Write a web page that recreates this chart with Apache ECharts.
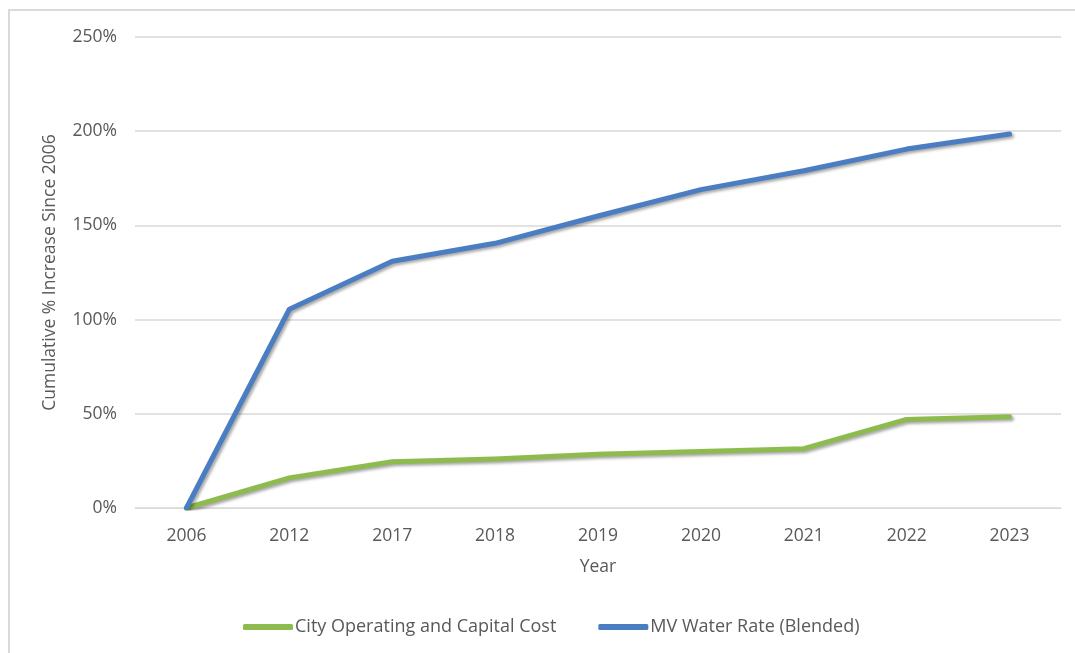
<!DOCTYPE html>
<html>
<head>
<meta charset="utf-8">
<script src="https://cdn.jsdelivr.net/npm/echarts@6/dist/echarts.min.js"></script>
<style>
html,body{margin:0;padding:0;background:#fff;}
#chart{width:1075px;height:653px;}
</style>
</head>
<body>
<div id="chart"></div>
<script>
const years = ['2006','2012','2017','2018','2019','2020','2021','2022','2023'];
const cityCost = [0, 16, 24.5, 26, 28.5, 30, 31.5, 47, 48.5];
const waterRate = [0, 105.5, 131, 140.5, 155, 169, 179, 190.5, 198.5];
const yTicks = [0, 50, 100, 150, 200, 250];
const seriesNames = ['City Operating and Capital Cost', 'MV Water Rate (Blended)'];

const FONT = '"Open Sans", "Liberation Sans", sans-serif';
const TXT = '#595959';
const GRID = '#d9d9d9';
const BLUE = '#4A7DC1';
const GREEN = '#8DBB4E';
const FS = 17.5;

const chart = echarts.init(document.getElementById('chart'));
chart.setOption({
  animation: false,
  backgroundColor: '#fff',
  textStyle: { fontFamily: FONT },
  graphic: [{
    type: 'rect',
    shape: { x: 9, y: 10, width: 1200, height: 800 },
    style: { fill: 'none', stroke: GRID, lineWidth: 2 },
    silent: true
  }],
  grid: { left: 135, right: 14, top: 37, bottom: 145 },
  legend: {
    bottom: 12,
    left: 238,
    itemWidth: 50,
    itemHeight: 6,
    itemGap: 42,
    icon: 'roundRect',
    textStyle: { color: TXT, fontSize: 18, fontFamily: FONT, padding: [0, 0, 0, -3] },
    data: seriesNames
  },
  xAxis: {
    type: 'category',
    data: years,
    boundaryGap: true,
    name: 'Year',
    nameLocation: 'middle',
    nameGap: 50,
    nameTextStyle: { color: TXT, fontSize: FS, fontFamily: FONT },
    axisLine: { show: true, lineStyle: { color: GRID, width: 1 } },
    axisTick: { show: false },
    axisLabel: { color: TXT, fontSize: FS, margin: 19, fontFamily: FONT }
  },
  yAxis: {
    type: 'value',
    min: yTicks[0],
    max: yTicks[yTicks.length - 1],
    interval: 50,
    name: 'Cumulative % Increase Since 2006',
    nameLocation: 'middle',
    nameGap: 76,
    nameTextStyle: { color: TXT, fontSize: FS, fontFamily: FONT },
    axisLine: { show: false },
    axisTick: { show: false },
    splitLine: { lineStyle: { color: GRID, width: 1.5 } },
    axisLabel: { color: TXT, fontSize: FS, margin: 18, fontFamily: FONT, formatter: v => v + '%' }
  },
  series: [
    {
      name: seriesNames[0],
      type: 'line',
      data: cityCost,
      symbol: 'none',
      color: GREEN,
      z: 3,
      lineStyle: { width: 5, color: GREEN, cap: 'round', join: 'round',
        shadowColor: 'rgba(0,0,0,0.35)', shadowBlur: 3, shadowOffsetX: 2, shadowOffsetY: 2 }
    },
    {
      name: seriesNames[1],
      type: 'line',
      data: waterRate,
      symbol: 'none',
      color: BLUE,
      z: 4,
      lineStyle: { width: 5, color: BLUE, cap: 'round', join: 'round',
        shadowColor: 'rgba(0,0,0,0.35)', shadowBlur: 3, shadowOffsetX: 2, shadowOffsetY: 2 }
    }
  ]
});
</script>
</body>
</html>
